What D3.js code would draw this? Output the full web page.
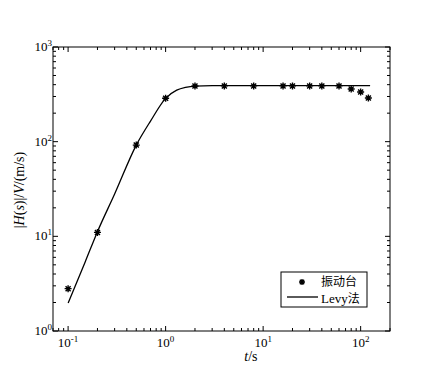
<!DOCTYPE html>
<html>
<head>
<meta charset="utf-8">
<script src="https://cdn.jsdelivr.net/npm/d3@7"></script>
<style>
  body { margin: 0; background: #fff; }
  text { font-family: "Liberation Serif", "Times New Roman", serif; fill: #000; }
  .cjk { font-family: "Noto Sans CJK SC", sans-serif; }
</style>
</head>
<body>
<div id="viz"></div>
<script>
// measured points (shaking table)
var tableT = [0.1, 0.2, 0.5, 1, 2, 4, 8, 16, 20, 30, 40, 60, 80, 100, 120];
var tableH = [2.8, 11, 92, 287, 387, 388, 388, 388, 388, 388, 388, 388, 360, 335, 289];

// Levy fit curve
var levyT = [0.1, 0.15, 0.2, 0.3, 0.5, 0.7, 1, 1.3, 1.6, 2, 3, 5, 10, 30, 125];
var levyH = [1.97, 5.4, 11.2, 28, 92, 165, 287, 350, 375, 387, 390, 390, 390, 390, 390];

var xTicks = [-1, 0, 1, 2];
var yTicks = [0, 1, 2, 3];

var w = 439, h = 365;
var margin = {top: 47, right: 49, bottom: 34, left: 53};
var width = w - margin.left - margin.right,
    height = h - margin.top - margin.bottom;

var xScale = d3.scaleLog().domain([0.07, 200]).range([0, width]);
var yScale = d3.scaleLog().domain([1, 1000]).range([height, 0]);

var svg = d3.select("#viz").append("svg")
  .attr("width", w)
  .attr("height", h);

var g = svg.append("g")
  .attr("transform", "translate(" + margin.left + "," + margin.top + ")");

// minor / major tick values
function logTicks(lo, hi) {
  var out = [];
  for (var e = Math.floor(Math.log10(lo)); e <= Math.ceil(Math.log10(hi)); e++) {
    for (var m = 1; m < 10; m++) {
      var v = m * Math.pow(10, e);
      if (v >= lo * 0.999 && v <= hi * 1.001) out.push({v: v, major: m === 1});
    }
  }
  return out;
}

var xt = logTicks(0.07, 200);
var yt = logTicks(1, 1000);

// ticks inside, on all four sides
xt.forEach(function (t) {
  var x = xScale(t.v), len = t.major ? 5 : 3;
  g.append("line").attr("x1", x).attr("x2", x).attr("y1", height).attr("y2", height - len)
    .attr("stroke", "#000");
  g.append("line").attr("x1", x).attr("x2", x).attr("y1", 0).attr("y2", len)
    .attr("stroke", "#000");
});
yt.forEach(function (t) {
  var y = yScale(t.v), len = t.major ? 5 : 3;
  g.append("line").attr("x1", 0).attr("x2", len).attr("y1", y).attr("y2", y)
    .attr("stroke", "#000");
  g.append("line").attr("x1", width).attr("x2", width - len).attr("y1", y).attr("y2", y)
    .attr("stroke", "#000");
});

// frame
g.append("rect")
  .attr("width", width).attr("height", height)
  .attr("fill", "none").attr("stroke", "#000").attr("stroke-width", 1);

// tick labels
xTicks.forEach(function (e) {
  var t = g.append("text")
    .attr("x", xScale(Math.pow(10, e)))
    .attr("y", height + 16)
    .attr("text-anchor", "middle")
    .style("font-size", "13px");
  t.append("tspan").text("10");
  t.append("tspan").attr("dy", -5).style("font-size", "9px").text(e);
});
yTicks.forEach(function (e) {
  var t = g.append("text")
    .attr("x", -1)
    .attr("y", yScale(Math.pow(10, e)) + 4)
    .attr("text-anchor", "end")
    .style("font-size", "13px");
  t.append("tspan").text("10");
  t.append("tspan").attr("dy", -5).style("font-size", "9px").text(e);
});

// axis titles
var xt2 = svg.append("text")
  .attr("x", margin.left + xScale(7.5))
  .attr("y", 361)
  .attr("text-anchor", "middle")
  .style("font-size", "14px");
xt2.append("tspan").style("font-style", "italic").text("t");
xt2.append("tspan").text("/s");

var yl = svg.append("text")
  .attr("transform", "translate(24," + 190 + ") rotate(-90)")
  .attr("text-anchor", "middle")
  .style("font-size", "14px");
yl.append("tspan").text("|");
yl.append("tspan").style("font-style", "italic").text("H");
yl.append("tspan").text("(");
yl.append("tspan").style("font-style", "italic").text("s");
yl.append("tspan").text(")|/");
yl.append("tspan").style("font-style", "italic").text("V");
yl.append("tspan").text("/(m/s)");

// Levy curve
var line = d3.line()
  .curve(d3.curveMonotoneX)
  .x(function (d, i) { return xScale(levyT[i]); })
  .y(function (d, i) { return yScale(levyH[i]); });

g.append("path")
  .datum(levyT)
  .attr("d", line)
  .attr("fill", "none")
  .attr("stroke", "#000")
  .attr("stroke-width", 1.3);

// asterisk marker
function star(r) {
  var d = r * 0.72;
  return "M" + (-r) + ",0L" + r + ",0M0," + (-r) + "L0," + r +
    "M" + (-d) + "," + (-d) + "L" + d + "," + d +
    "M" + (-d) + "," + d + "L" + d + "," + (-d);
}

g.selectAll(".pt")
  .data(tableT)
  .enter()
  .append("path")
  .attr("class", "pt")
  .attr("transform", function (d, i) {
    return "translate(" + xScale(d) + "," + yScale(tableH[i]) + ")";
  })
  .attr("d", star(3.5))
  .attr("stroke", "#000")
  .attr("stroke-width", 1.4);

// legend
var lg = svg.append("g").attr("transform", "translate(281,272)");
lg.append("rect")
  .attr("width", 86).attr("height", 35)
  .attr("fill", "#fff").attr("stroke", "#000");
lg.append("path")
  .attr("transform", "translate(21,10)")
  .attr("d", star(3))
  .attr("stroke", "#000").attr("stroke-width", 1.4);
lg.append("line")
  .attr("x1", 6).attr("x2", 37).attr("y1", 25).attr("y2", 25)
  .attr("stroke", "#000").attr("stroke-width", 1.3);
lg.append("text").attr("class", "cjk")
  .attr("x", 40).attr("y", 14)
  .style("font-size", "12px")
  .text("振动台");
var lt = lg.append("text")
  .attr("x", 40).attr("y", 31)
  .style("font-size", "13px");
lt.append("tspan").text("Levy");
lt.append("tspan").attr("class", "cjk").style("font-size", "12px").text("法");
</script>
</body>
</html>
